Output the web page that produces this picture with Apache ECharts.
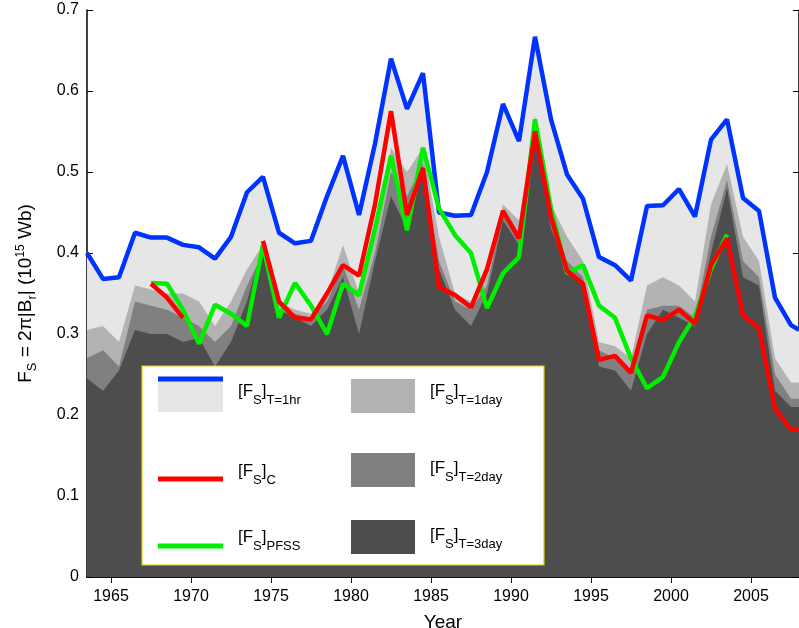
<!DOCTYPE html>
<html><head><meta charset="utf-8">
<script src="https://cdn.jsdelivr.net/npm/echarts@6/dist/echarts.min.js"></script>
<style>html,body{margin:0;padding:0;background:#fff}#c{width:799px;height:628px}</style>
</head><body><div id="c"></div>
<script>
const years = [];
for (let y = 1963.5; y <= 2007.5; y++) years.push(y);
const blue = [0.40,0.368,0.370,0.425,0.419,0.419,0.410,0.407,0.393,0.42,0.475,0.494,0.425,0.412,0.415,0.47,0.52,0.447,0.535,0.64,0.578,0.622,0.45,0.446,0.447,0.50,0.584,0.538,0.667,0.565,0.497,0.467,0.395,0.385,0.366,0.458,0.459,0.479,0.445,0.54,0.565,0.468,0.452,0.345,0.311];
const red = [null,null,null,null,0.362,0.345,0.32,null,null,null,null,0.415,0.34,0.32,0.318,0.35,0.385,0.372,0.46,0.575,0.447,0.505,0.358,0.348,0.333,0.38,0.452,0.418,0.55,0.445,0.378,0.362,0.268,0.273,0.252,0.323,0.317,0.33,0.313,0.385,0.418,0.323,0.307,0.208,0.182];
const green = [null,null,null,null,0.363,0.362,0.33,0.288,0.336,0.325,0.31,0.41,0.32,0.363,0.335,0.30,0.362,0.348,0.43,0.52,0.428,0.53,0.455,0.422,0.40,0.332,0.375,0.395,0.565,0.455,0.375,0.385,0.335,0.32,0.27,0.233,0.247,0.29,0.322,0.38,0.423,null,null,null,null];
const day1 = [0.305,0.31,0.29,0.36,0.355,0.35,0.35,0.34,0.31,0.34,0.38,0.41,0.34,0.33,0.325,0.35,0.41,0.35,0.43,0.53,0.50,0.53,0.42,0.35,0.34,0.38,0.46,0.44,0.57,0.46,0.42,0.39,0.29,0.285,0.27,0.36,0.37,0.36,0.34,0.46,0.51,0.42,0.39,0.27,0.24];
const day2 = [0.27,0.28,0.26,0.34,0.335,0.33,0.32,0.31,0.29,0.31,0.36,0.40,0.33,0.325,0.32,0.34,0.385,0.33,0.40,0.50,0.47,0.51,0.39,0.34,0.33,0.36,0.45,0.42,0.56,0.44,0.39,0.37,0.28,0.27,0.25,0.33,0.335,0.335,0.32,0.42,0.49,0.39,0.37,0.25,0.22];
const day3 = [0.245,0.23,0.255,0.305,0.30,0.30,0.29,0.295,0.26,0.29,0.34,0.41,0.33,0.32,0.31,0.33,0.37,0.30,0.39,0.47,0.43,0.50,0.38,0.33,0.31,0.35,0.44,0.41,0.55,0.43,0.38,0.36,0.26,0.255,0.23,0.30,0.33,0.32,0.31,0.40,0.48,0.37,0.36,0.23,0.21];
const xTicks = [1965,1970,1975,1980,1985,1990,1995,2000,2005];

function pairs(v){ const p = years.map((x,i)=>[x,v[i]]); if (v[v.length-1]!=null) p.push([2008, v[v.length-1] + (v===blue?-0.006:0)]); return p; }
const F = 'Liberation Sans, Arial, sans-serif';
function area(name, v, color, z){ return {name, type:'line', data:pairs(v), symbol:'none', lineStyle:{width:0}, areaStyle:{color, opacity:1}, itemStyle:{color}, z, silent:true}; }
function line(name, v, color, z){ return {name, type:'line', data:pairs(v), symbol:'none', connectNulls:false, lineStyle:{width:4.5, color}, itemStyle:{color}, z, silent:true}; }

const chart = echarts.init(document.getElementById('c'));
const lbl = (x, y, b) => ({type:'text', x, y, style:{text:b, fill:'#000', verticalAlign:'middle',
  rich:{a:{fontSize:17,fontFamily:F,fill:'#000',lineHeight:24,verticalAlign:'top'}, s:{fontSize:13,fontFamily:F,fill:'#000',lineHeight:24,verticalAlign:'bottom'}}}, z:100});
chart.setOption({
  animation:false,
  grid:{left:87, right:0, top:10, bottom:51, show:false, outerBoundsMode:'none', containLabel:false},
  xAxis:[{type:'value', min:1963.5, max:2008, interval:5,
    axisLine:{lineStyle:{color:'#000', width:1.5}}, axisTick:{inside:true, length:6, lineStyle:{color:'#000'}, customValues:xTicks},
    axisLabel:{fontSize:16, fontFamily:F, color:'#000', margin:12, customValues:xTicks, formatter:v=>String(v)},
    splitLine:{show:false}, name:'Year', nameLocation:'middle', nameGap:36, nameTextStyle:{fontSize:19, fontFamily:F, color:'#000'}},
    {type:'value', position:'top', min:1963.5, max:2008, axisLine:{lineStyle:{color:'#000', width:1.5}}, axisTick:{inside:true,length:6,lineStyle:{color:'#000'}, customValues:xTicks}, axisLabel:{show:false}, splitLine:{show:false}}],
  yAxis:[{type:'value', min:0, max:0.7, interval:0.1,
    axisLine:{show:true, lineStyle:{color:'#000', width:1.5}}, axisTick:{inside:true, length:6, lineStyle:{color:'#000'}},
    axisLabel:{fontSize:16, fontFamily:F, color:'#000', formatter:v=>v===0?'0':v.toFixed(1)}, splitLine:{show:false},
    name:'{a|F}{s|S}{a| = 2π|B}{s|r}{a|| (10}{p|15}{a| Wb)}', nameLocation:'middle', nameGap:50,
    nameTextStyle:{rich:{a:{fontSize:19,fontFamily:F,color:'#000'}, s:{fontSize:13,fontFamily:F,color:'#000',padding:[0,0,-12,0]}, p:{fontSize:12,fontFamily:F,color:'#000',padding:[0,0,10,0]}}}},
    {type:'value', position:'right', min:0, max:0.7, interval:0.1, axisLine:{show:true, lineStyle:{color:'#000', width:1.5}}, axisTick:{inside:true,length:6,lineStyle:{color:'#000'}}, axisLabel:{show:false}, splitLine:{show:false}}],
  series:[
    area('1hr', blue, '#e6e6e6', 1),
    area('1day', day1, '#b3b3b3', 2),
    area('2day', day2, '#808080', 3),
    area('3day', day3, '#4d4d4d', 4),
    line('blue', blue, '#0033ff', 10),
    line('green', green, '#00ee00', 11),
    line('red', red, '#ff0000', 12)
  ],
  graphic:[
    {type:'rect', shape:{x:142, y:366, width:402, height:199}, style:{fill:'#fff', stroke:'#e0d000', lineWidth:1.2}, z:50},
    {type:'rect', shape:{x:158, y:379, width:65, height:33}, style:{fill:'#e6e6e6'}, z:60},
    {type:'line', shape:{x1:158, y1:379, x2:223, y2:379}, style:{stroke:'#0033ff', lineWidth:5}, z:61},
    {type:'line', shape:{x1:158, y1:479, x2:223, y2:479}, style:{stroke:'#ff0000', lineWidth:5}, z:61},
    {type:'line', shape:{x1:158, y1:546, x2:223, y2:546}, style:{stroke:'#00ee00', lineWidth:5}, z:61},
    {type:'rect', shape:{x:351, y:379, width:64, height:34}, style:{fill:'#b3b3b3'}, z:60},
    {type:'rect', shape:{x:351, y:453, width:64, height:34}, style:{fill:'#808080'}, z:60},
    {type:'rect', shape:{x:351, y:520, width:64, height:34}, style:{fill:'#4d4d4d'}, z:60},
    lbl(238,395,'{a|[F}{s|S}{a|]}{s|T=1hr}'),
    lbl(238,475,'{a|[F}{s|S}{a|]}{s|C}'),
    lbl(238,541,'{a|[F}{s|S}{a|]}{s|PFSS}'),
    lbl(430,395,'{a|[F}{s|S}{a|]}{s|T=1day}'),
    lbl(430,472,'{a|[F}{s|S}{a|]}{s|T=2day}'),
    lbl(430,539,'{a|[F}{s|S}{a|]}{s|T=3day}')
  ]
});
</script></body></html>
